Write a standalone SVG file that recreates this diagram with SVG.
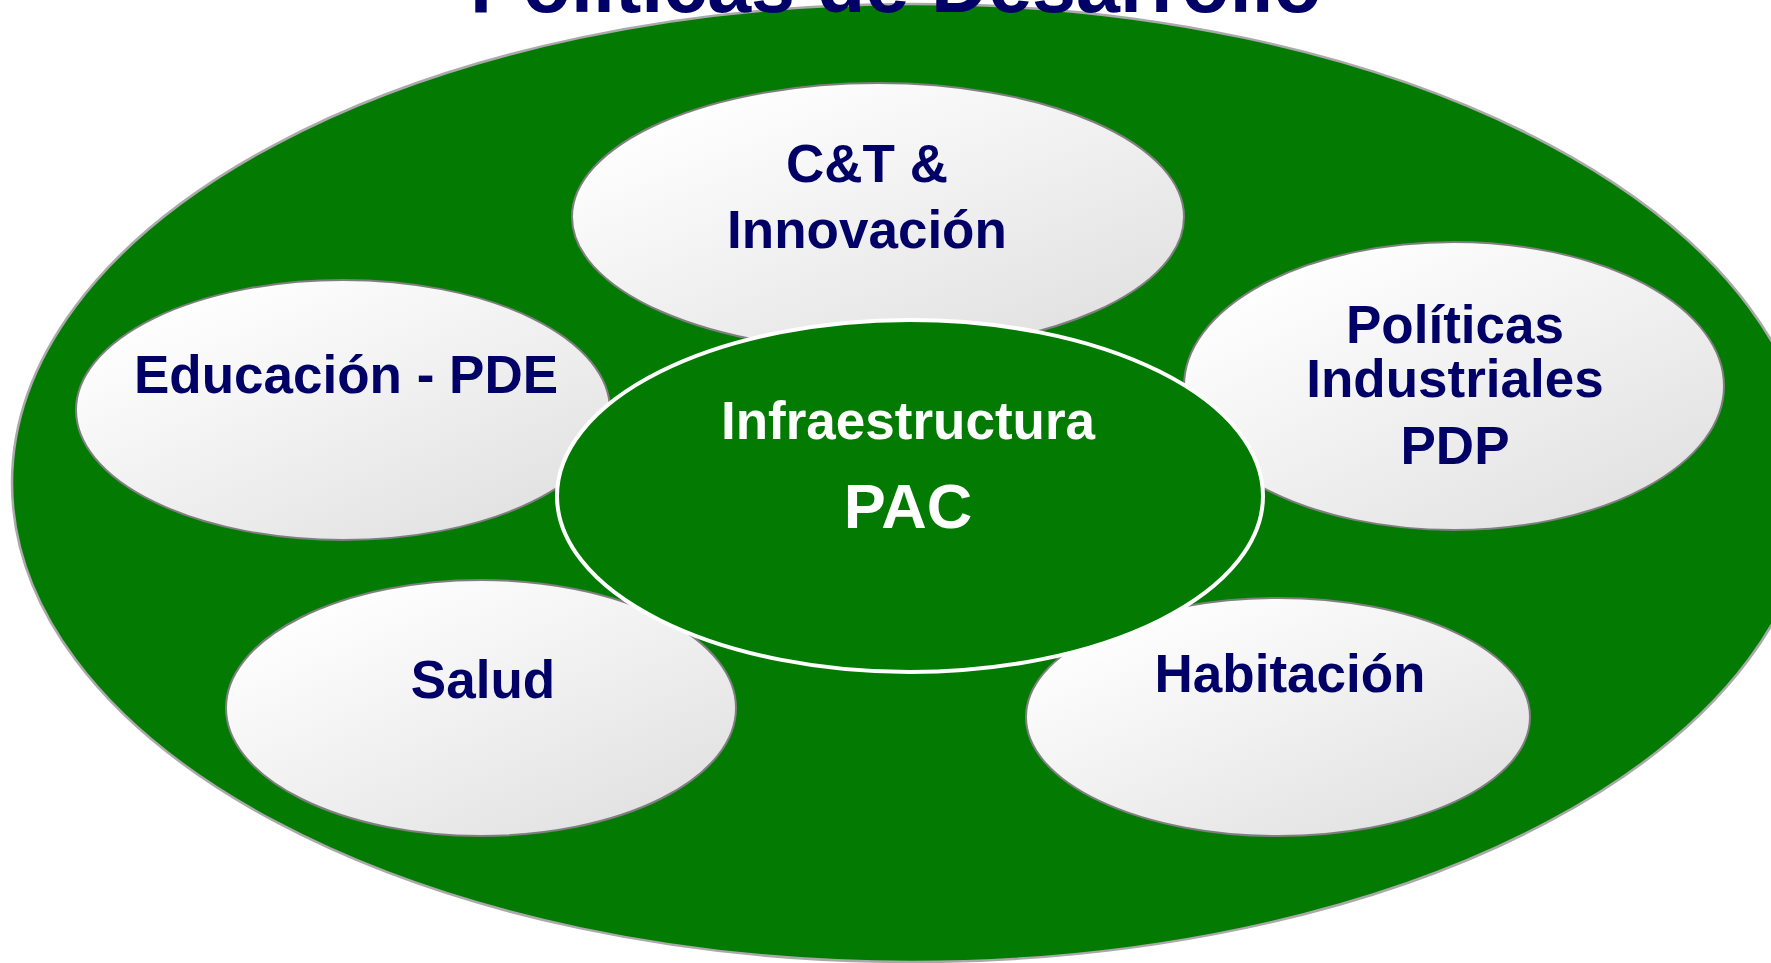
<svg xmlns="http://www.w3.org/2000/svg" width="1771" height="963" viewBox="0 0 1771 963">
  <defs>
    <linearGradient id="nodeFill" x1="0.15" y1="0.1" x2="0.85" y2="0.9">
      <stop offset="0" stop-color="#ffffff"/>
      <stop offset="1" stop-color="#e2e2e2"/>
    </linearGradient>
  </defs>
  <style>
    .outer { fill: #037b03; stroke: #a9a9a9; stroke-width: 2.5; }
    .node { fill: url(#nodeFill); stroke: #7f7f7f; stroke-width: 2; }
    .center { fill: #037b03; stroke: #ffffff; stroke-width: 4; }
    .lbl { font-family: "Liberation Sans", Arial, sans-serif; font-weight: bold; font-size: 53px; fill: #000066; text-anchor: middle; }
    .wlbl { font-family: "Liberation Sans", Arial, sans-serif; font-weight: bold; fill: #ffffff; text-anchor: middle; }
    .title { font-family: "Liberation Sans", Arial, sans-serif; font-weight: bold; font-size: 79px; fill: #000066; text-anchor: middle; }
  </style>
  <rect width="1771" height="963" fill="#ffffff"/>
  <g id="background">
    <ellipse class="outer" cx="912" cy="483" rx="900" ry="479"/>
  </g>
  <g id="title">
    <text class="title" x="896" y="12">Políticas de Desarrollo</text>
  </g>
  <g id="node-ct">
    <ellipse class="node" cx="878" cy="217" rx="306" ry="134"/>
    <text class="lbl" x="867" y="182">C&amp;T &amp;</text>
    <text class="lbl" x="867" y="248">Innovación</text>
  </g>
  <g id="node-educacion">
    <ellipse class="node" cx="343" cy="410" rx="267" ry="130"/>
    <text class="lbl" x="346" y="393">Educación - PDE</text>
  </g>
  <g id="node-politicas">
    <ellipse class="node" cx="1454" cy="386" rx="270" ry="144"/>
    <text class="lbl" x="1455" y="343">Políticas</text>
    <text class="lbl" x="1455" y="397">Industriales</text>
    <text class="lbl" x="1455" y="464">PDP</text>
  </g>
  <g id="node-salud">
    <ellipse class="node" cx="481" cy="708" rx="255" ry="128"/>
    <text class="lbl" x="483" y="698">Salud</text>
  </g>
  <g id="node-habitacion">
    <ellipse class="node" cx="1278" cy="717" rx="252" ry="119"/>
    <text class="lbl" x="1290" y="692">Habitación</text>
  </g>
  <g id="node-infraestructura">
    <ellipse class="center" cx="910" cy="496" rx="353" ry="176"/>
    <text class="wlbl" x="908" y="439" font-size="53">Infraestructura</text>
    <text class="wlbl" x="908" y="528" font-size="63">PAC</text>
  </g>
</svg>
